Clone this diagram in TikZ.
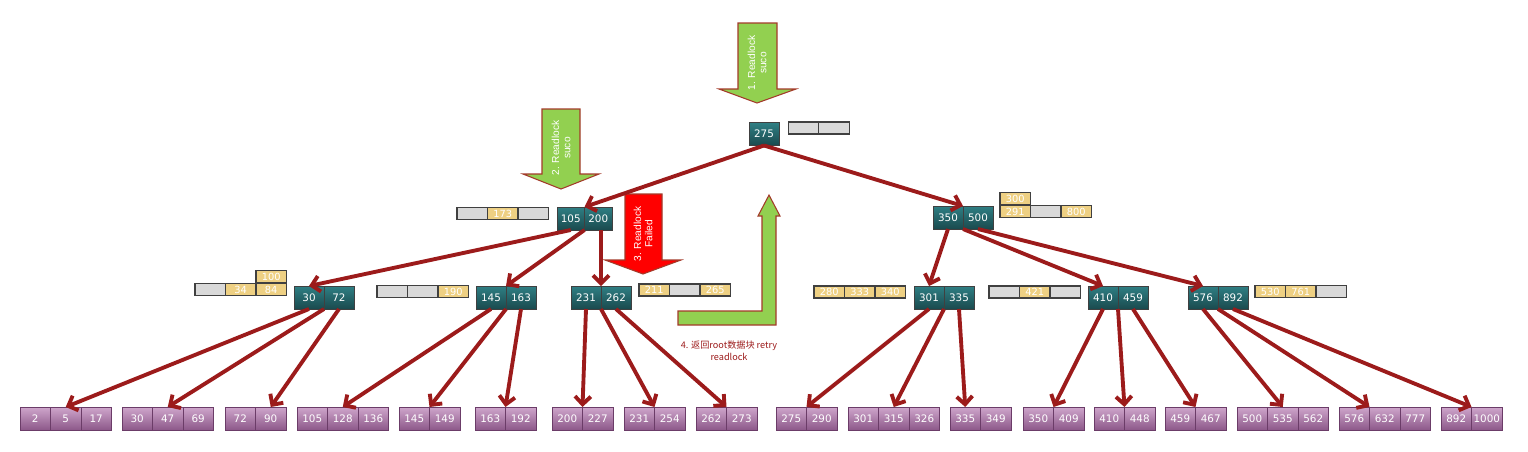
\documentclass[tikz,border=0pt]{standalone}
\usepackage{fontspec}
\setmainfont{DejaVu Sans}
\newfontfamily\labfont{Liberation Sans}
\newfontfamily\cjk{Noto Sans CJK SC}
\usepackage{xcolor}
\usetikzlibrary{positioning,arrows.meta}

\definecolor{nodetop}{HTML}{2F7F84}
\definecolor{nodebot}{HTML}{1A4A4E}
\definecolor{leaftop}{HTML}{CFA6CC}
\definecolor{leafbot}{HTML}{8C5889}
\definecolor{leafline}{HTML}{6B3C68}
\definecolor{lockgrey}{HTML}{D9D9D9}
\definecolor{lockyellow}{HTML}{EED083}
\definecolor{edgered}{HTML}{9C1B1B}
\definecolor{okgreen}{HTML}{92D050}
\definecolor{failred}{HTML}{FF0000}
\definecolor{arrowline}{HTML}{A33A2A}

\begin{document}
\begin{tikzpicture}[
  x=0.02cm, y=-0.02cm,
  node distance=0pt,
  key/.style={rectangle, draw=black!75, line width=0.5pt, top color=nodetop,
              bottom color=nodebot, text=white, minimum width=0.6cm,
              minimum height=0.46cm, inner sep=0pt, outer sep=0pt,
              font=\fontsize{5.9}{6.5}\selectfont},
  leaf/.style={rectangle, draw=leafline, line width=0.5pt, top color=leaftop,
               bottom color=leafbot, text=white, minimum width=0.61cm,
               minimum height=0.46cm, inner sep=0pt, outer sep=0pt,
               font=\fontsize{5.9}{6.5}\selectfont},
  slot/.style={rectangle, draw=black!75, line width=0.6pt, fill=lockgrey,
               text=white, minimum width=0.61cm, minimum height=0.24cm,
               inner sep=0pt, outer sep=0pt, font=\fontsize{5.6}{5.6}\selectfont},
  held/.style={slot, fill=lockyellow},
  link/.style={draw=edgered, line width=2.2pt, -{Straight Barb[length=4.5pt,width=9pt]}},
  okarrow/.style={fill=okgreen, draw=arrowline, line width=0.6pt},
  failarrow/.style={fill=failred, draw=arrowline, line width=0.6pt},
  arrowtext/.style={rotate=90, align=center, text=white,
                    font=\labfont\fontsize{5.8}{6.4}\selectfont}
]
  \useasboundingbox (0,0) rectangle (1528,451);

  \draw[okarrow] (738,23) -- (777,23) -- (777,89) -- (796,89) -- (757,103)
    -- (719,89) -- (738,89) -- cycle;
  \node[arrowtext] (t1) at (757,63) {1. Readlock\\suco};
  \draw[okarrow] (542,109) -- (580,109) -- (580,174) -- (599,174) -- (561,189)
    -- (523,174) -- (542,174) -- cycle;
  \node[arrowtext] (t2) at (561,148) {2. Readlock\\suco};
  \draw[failarrow] (625,194) -- (662,194) -- (662,260) -- (681,260) -- (643,274)
    -- (605,260) -- (625,260) -- cycle;
  \node[arrowtext] (t3) at (643,234) {3. Readlock\\Failed};
  \draw[okarrow] (678,311) -- (762,311) -- (762,216) -- (758,216) -- (769,195)
    -- (780,216) -- (776,216) -- (776,325) -- (678,325) -- cycle;
  \node[font=\cjk\fontsize{5.2}{6.8}\selectfont, text=edgered, align=center] (t4)
    at (729,351) {4. 返回root数据块 retry\\readlock};

  \node[key] (n275) at (764,134) {275};
  \node[slot] (k275a) at (803.5,128) {};
  \node[slot, right=of k275a] (k275b) {};

  \node[key, minimum width=0.55cm] (n105) at (570.75,218.5) {105};
  \node[key, minimum width=0.55cm, right=of n105] (n200) {200};
  \node[slot] (k105a) at (472.25,213.5) {};
  \node[held, right=of k105a] (k173) {173};
  \node[slot, right=of k173] (k105c) {};

  \node[key] (n350) at (948,217.5) {350};
  \node[key, right=of n350] (n500) {500};
  \node[held] (k291) at (1015.25,211.5) {291};
  \node[slot, right=of k291] (k350b) {};
  \node[held, right=of k350b] (k800) {800};
  \node[held, above=0.6pt of k291] (k300) {300};

  \node[key] (n30) at (309,297.5) {30};
  \node[key, right=of n30] (n72) {72};
  \node[slot] (k30a) at (210.25,289.5) {};
  \node[held, right=of k30a] (k34) {34};
  \node[held, right=of k34] (k84) {84};
  \node[held, above=0.6pt of k84] (k100) {100};

  \node[key] (n145) at (491,297.5) {145};
  \node[key, right=of n145] (n163) {163};
  \node[slot] (k145a) at (392.25,291.5) {};
  \node[slot, right=of k145a] (k145b) {};
  \node[held, right=of k145b] (k190) {190};

  \node[key] (n231) at (586,297.5) {231};
  \node[key, right=of n231] (n262) {262};
  \node[held] (k211) at (654.25,290) {211};
  \node[slot, right=of k211] (k231b) {};
  \node[held, right=of k231b] (k265) {265};

  \node[key] (n301) at (929,297.5) {301};
  \node[key, right=of n301] (n335) {335};
  \node[held] (k280) at (829.25,292) {280};
  \node[held, right=of k280] (k333) {333};
  \node[held, right=of k333] (k340) {340};

  \node[key] (n410) at (1103,297.5) {410};
  \node[key, right=of n410] (n459) {459};
  \node[slot] (k410a) at (1004.25,292) {};
  \node[held, right=of k410a] (k421) {421};
  \node[slot, right=of k421] (k410c) {};

  \node[key] (n576) at (1203,297.5) {576};
  \node[key, right=of n576] (n892) {892};
  \node[held] (k530) at (1270.25,291.5) {530};
  \node[held, right=of k530] (k761) {761};
  \node[slot, right=of k761] (k576c) {};

  \node[leaf] (l2) at (35.25,418.5) {2};
  \node[leaf, right=of l2] (l5) {5};
  \node[leaf, right=of l5] (l17) {17};
  \node[leaf] (l30) at (137.25,418.5) {30};
  \node[leaf, right=of l30] (l47) {47};
  \node[leaf, right=of l47] (l69) {69};
  \node[leaf] (l72) at (240.25,418.5) {72};
  \node[leaf, right=of l72] (l90) {90};
  \node[leaf] (l105) at (312.25,418.5) {105};
  \node[leaf, right=of l105] (l128) {128};
  \node[leaf, right=of l128] (l136) {136};
  \node[leaf] (l145) at (414.25,418.5) {145};
  \node[leaf, right=of l145] (l149) {149};
  \node[leaf] (l163) at (490.25,418.5) {163};
  \node[leaf, right=of l163] (l192) {192};
  \node[leaf] (l200) at (567.25,418.5) {200};
  \node[leaf, right=of l200] (l227) {227};
  \node[leaf] (l231) at (639.25,418.5) {231};
  \node[leaf, right=of l231] (l254) {254};
  \node[leaf] (l262) at (711.25,418.5) {262};
  \node[leaf, right=of l262] (l273) {273};
  \node[leaf] (l275) at (791.25,418.5) {275};
  \node[leaf, right=of l275] (l290) {290};
  \node[leaf] (l301) at (863.25,418.5) {301};
  \node[leaf, right=of l301] (l315) {315};
  \node[leaf, right=of l315] (l326) {326};
  \node[leaf] (l335) at (965.25,418.5) {335};
  \node[leaf, right=of l335] (l349) {349};
  \node[leaf] (l350) at (1038.25,418.5) {350};
  \node[leaf, right=of l350] (l409) {409};
  \node[leaf] (l410) at (1109.25,418.5) {410};
  \node[leaf, right=of l410] (l448) {448};
  \node[leaf] (l459) at (1180.25,418.5) {459};
  \node[leaf, right=of l459] (l467) {467};
  \node[leaf] (l500) at (1252.25,418.5) {500};
  \node[leaf, right=of l500] (l535) {535};
  \node[leaf, right=of l535] (l562) {562};
  \node[leaf] (l576) at (1354.25,418.5) {576};
  \node[leaf, right=of l576] (l632) {632};
  \node[leaf, right=of l632] (l777) {777};
  \node[leaf] (l892) at (1456.25,418.5) {892};
  \node[leaf, right=of l892] (l1000) {1000};

  \draw[link] (n275.south) -- (n105.north east);
  \draw[link] (n275.south) -- (n350.north east);
  \draw[link] (n105.south) -- (n30.north);
  \draw[link] (n105.south east) -- (n145.north east);
  \draw[link] (n200.south -| n231.north east) -- (n231.north east);
  \draw[link] (n350.south) -- (n301.north);
  \draw[link] (n350.south east) -- (n410.north);
  \draw[link] (n500.south) -- (n576.north);
  \draw[link] (n30.south) -- (l5.north);
  \draw[link] (n30.south east) -- (l47.north);
  \draw[link] (n72.south) -- (l90.north);
  \draw[link] (n145.south) -- (l128.north);
  \draw[link] (n145.south east) -- (l145.north east);
  \draw[link] (n163.south) -- (l163.north east);
  \draw[link] (n231.south) -- (l200.north east);
  \draw[link] (n231.south east) -- (l231.north east);
  \draw[link] (n262.south) -- (l262.north east);
  \draw[link] (n301.south) -- (l275.north east);
  \draw[link] (n301.south east) -- (l315.north);
  \draw[link] (n335.south) -- (l335.north);
  \draw[link] (n410.south) -- (l350.north east);
  \draw[link] (n410.south east) -- (l410.north east);
  \draw[link] (n459.south) -- (l459.north east);
  \draw[link] (n576.south) -- (l535.north);
  \draw[link] (n576.south east) -- (l576.north east);
  \draw[link] (n892.south) -- (l892.north east);
\end{tikzpicture}
\end{document}
